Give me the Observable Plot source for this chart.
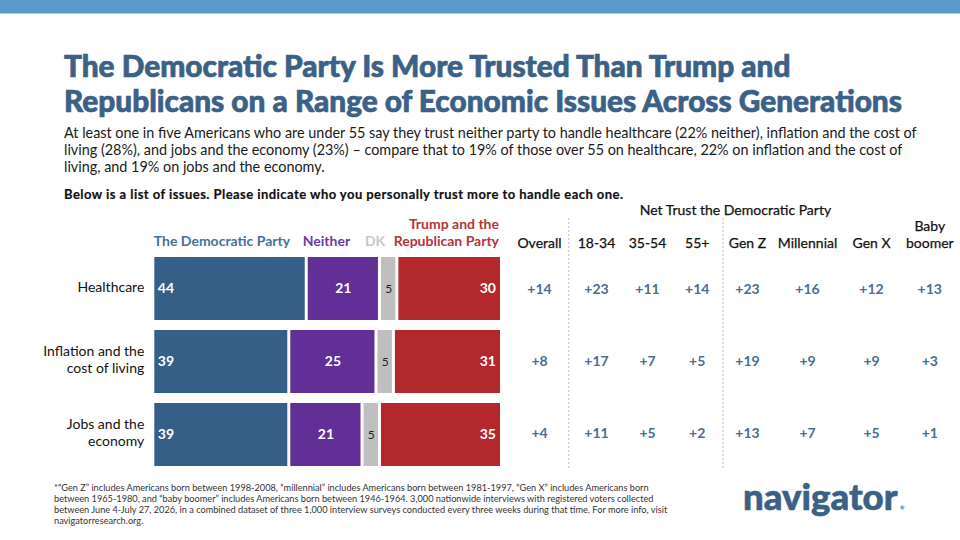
<!DOCTYPE html>
<html>
<head>
<meta charset="utf-8">
<script src="https://cdn.jsdelivr.net/npm/d3@7"></script>
<script src="https://cdn.jsdelivr.net/npm/@observablehq/plot@0.6"></script>
<style>
  html, body { margin: 0; padding: 0; background: #fff; width: 960px; height: 540px; overflow: hidden; font-family: Lato, sans-serif; }
  #band { height: 14px; background: #5b9bcb; border-bottom: 1px solid #a9cde6; box-sizing: border-box; }
  #head { position: relative; height: 176px; }
  #title { position: absolute; left: 64px; top: 34px; margin: 0; font: 900 29.8px/35px Lato, sans-serif; color: #3b6187; white-space: nowrap; -webkit-text-stroke: 0.7px #3b6187; }
  #sub { position: absolute; left: 64px; top: 110px; margin: 0; font: 400 14.4px/17.2px Lato, sans-serif; color: #1a1a1a; white-space: nowrap; }
  #ask { position: absolute; left: 64px; top: 172px; margin: 0; font: 700 13px/16px Lato, sans-serif; letter-spacing: 0.45px; color: #111; white-space: nowrap; -webkit-text-stroke: 0.2px #111; }
  #charts { display: flex; height: 290px; }
  #charts svg { display: block; overflow: visible; }
  #foot { position: relative; height: 60px; }
  #note { position: absolute; left: 54px; top: 2px; margin: 0; font: 400 9.2px/11px Lato, sans-serif; color: #333; white-space: nowrap; }
  #logo { position: absolute; left: 743px; top: -4px; font: 900 36.6px/40px Lato, sans-serif; color: #3b6187; -webkit-text-stroke: 0.6px #3b6187; white-space: nowrap; }
  #logo span { color: #6ba3d6; font-size: 8px; -webkit-text-stroke: 0; margin-left: 1px; font-family: "DejaVu Sans", sans-serif; }
</style>
</head>
<body>
<div id="band"></div>
<div id="head">
  <h1 id="title">The Democratic Party Is More Trusted Than Trump and<br>Republicans on a Range of Economic Issues Across Generations</h1>
  <p id="sub">At least one in five Americans who are under 55 say they trust neither party to handle healthcare (22% neither), inflation and the cost of<br>living (28%), and jobs and the economy (23%) – compare that to 19% of those over 55 on healthcare, 22% on inflation and the cost of<br>living, and 19% on jobs and the economy.</p>
  <p id="ask">Below is a list of issues. Please indicate who you personally trust more to handle each one.</p>
</div>
<div id="charts"></div>
<div id="foot">
  <p id="note">*“Gen Z” includes Americans born between 1998-2008, “millennial” includes Americans born between 1981-1997, “Gen X” includes Americans born<br>between 1965-1980, and “baby boomer” includes Americans born between 1946-1964. 3,000 nationwide interviews with registered voters collected<br>between June 4-July 27, 2026, in a combined dataset of three 1,000 interview surveys conducted every three weeks during that time. For more info, visit<br>navigatorresearch.org.</p>
  <div id="logo">navigator<span>★</span></div>
</div>
<script>
const issues = ["Healthcare", "Inflation and the\ncost of living", "Jobs and the\neconomy"];
const seriesNames = ["The Democratic Party", "Neither", "DK", "Trump and the\nRepublican Party"];
const seriesColors = ["#365f87", "#612f95", "#bfbfbf", "#b3282d"];
const labelColors = ["#47709a", "#6a3d9e", "#c8c8c8", "#b5333b"];
const democratic = [44, 39, 39];
const neither = [21, 25, 21];
const dk = [5, 5, 5];
const republican = [30, 31, 35];

const netTitle = "Net Trust the Democratic Party";
const netColumns = ["Overall", "18-34", "35-54", "55+", "Gen Z", "Millennial", "Gen X", "Baby\nboomer"];
const netHealthcare = [14, 23, 11, 14, 23, 16, 12, 13];
const netInflation = [8, 17, 7, 5, 19, 9, 9, 3];
const netJobs = [4, 11, 5, 2, 13, 7, 5, 1];

const stackRows = issues.flatMap((issue, i) =>
  [democratic, neither, dk, republican].map((values, s) => ({issue, series: seriesNames[s], value: values[i]})));
const netRows = [netHealthcare, netInflation, netJobs].flatMap((values, i) =>
  values.map((net, c) => ({issue: issues[i], col: netColumns[c], net})));
const stack = {y: "issue", x: "value", z: "series", order: null};
const labelFor = (name) => (d) => d.series === name ? d.value : null;
const white = {fill: "#fff", fontSize: 14, fontWeight: 700};
const legend = {frameAnchor: "top", lineAnchor: "bottom", fontSize: 14, fontWeight: 700, lineHeight: 1.2, dy: 45.5};
const medium = {fill: "#111", stroke: "#111", strokeWidth: 0.25, fontSize: 14};

const left = Plot.plot({
  width: 510, height: 290,
  marginLeft: 152.8, marginRight: 8.5, marginTop: 10, marginBottom: 3,
  style: {fontFamily: "Lato, sans-serif", background: "transparent"},
  x: {domain: [0, 100], range: [152.8, 501.5], axis: null},
  y: {domain: issues, type: "band", range: [55.7, 286.7], padding: 0.136, label: null, axis: null},
  color: {domain: seriesNames, range: seriesColors},
  marks: [
    Plot.barX(stackRows, Plot.stackX({...stack, fill: "series", insetLeft: 1.5, insetRight: 1.5})),
    Plot.axisY({tickSize: 0, tickPadding: 9, label: null, lineHeight: 1.2, dy: -2.5, ...medium}),
    Plot.text(stackRows, Plot.stackX1({...stack, text: labelFor(seriesNames[0]), textAnchor: "start", dx: 4.5, ...white})),
    Plot.text(stackRows, Plot.stackX({...stack, text: labelFor(seriesNames[1]), ...white})),
    Plot.text(stackRows, Plot.stackX2({...stack, text: labelFor(seriesNames[3]), textAnchor: "end", dx: -6, ...white})),
    Plot.text(stackRows, Plot.stackX({...stack, text: labelFor(seriesNames[2]), fill: "#222", fontSize: 12})),
    Plot.text([seriesNames[0]], {x: [0], text: (d) => d, textAnchor: "start", fill: labelColors[0], dx: 0.5, ...legend}),
    Plot.text([seriesNames[1]], {x: [democratic[0]], text: (d) => d, textAnchor: "start", fill: labelColors[1], dx: -4, ...legend}),
    Plot.text([seriesNames[2]], {x: [democratic[0] + neither[0]], text: (d) => d, textAnchor: "start", fill: labelColors[2], dx: -15, ...legend}),
    Plot.text([seriesNames[3]], {x: [100], text: (d) => d, textAnchor: "end", fill: labelColors[3], dx: -3, ...legend})
  ]
});

const columnIndex = netColumns.map((d, i) => i);
const right = Plot.plot({
  width: 450, height: 290,
  marginLeft: 0, marginRight: 0, marginTop: 28, marginBottom: 12,
  style: {fontFamily: "Lato, sans-serif", background: "transparent"},
  x: {type: "linear", domain: columnIndex, range: [29, 86, 137, 186.7, 237, 297, 361, 419.3], axis: null},
  y: {type: "point", domain: issues, range: [98, 243], padding: 0, axis: null},
  marks: [
    Plot.ruleX([0.5, 3.5], {stroke: "#bdbdbd", strokeDasharray: "2,2", strokeWidth: 1, dx: 0.8}),
    Plot.text([netTitle], {x: [3.76], text: (d) => d, frameAnchor: "top", dy: -13, ...medium}),
    Plot.text(netColumns, {x: columnIndex, text: (d) => d, frameAnchor: "top", lineAnchor: "bottom", lineHeight: 1.2, dy: 29, ...medium}),
    Plot.text(netRows, {x: (d) => netColumns.indexOf(d.col), y: "issue", text: (d) => `+${d.net}`, fontSize: 14, fontWeight: 700, fill: "#4a6d94"})
  ]
});
document.getElementById("charts").append(left, right);
</script>
</body>
</html>
